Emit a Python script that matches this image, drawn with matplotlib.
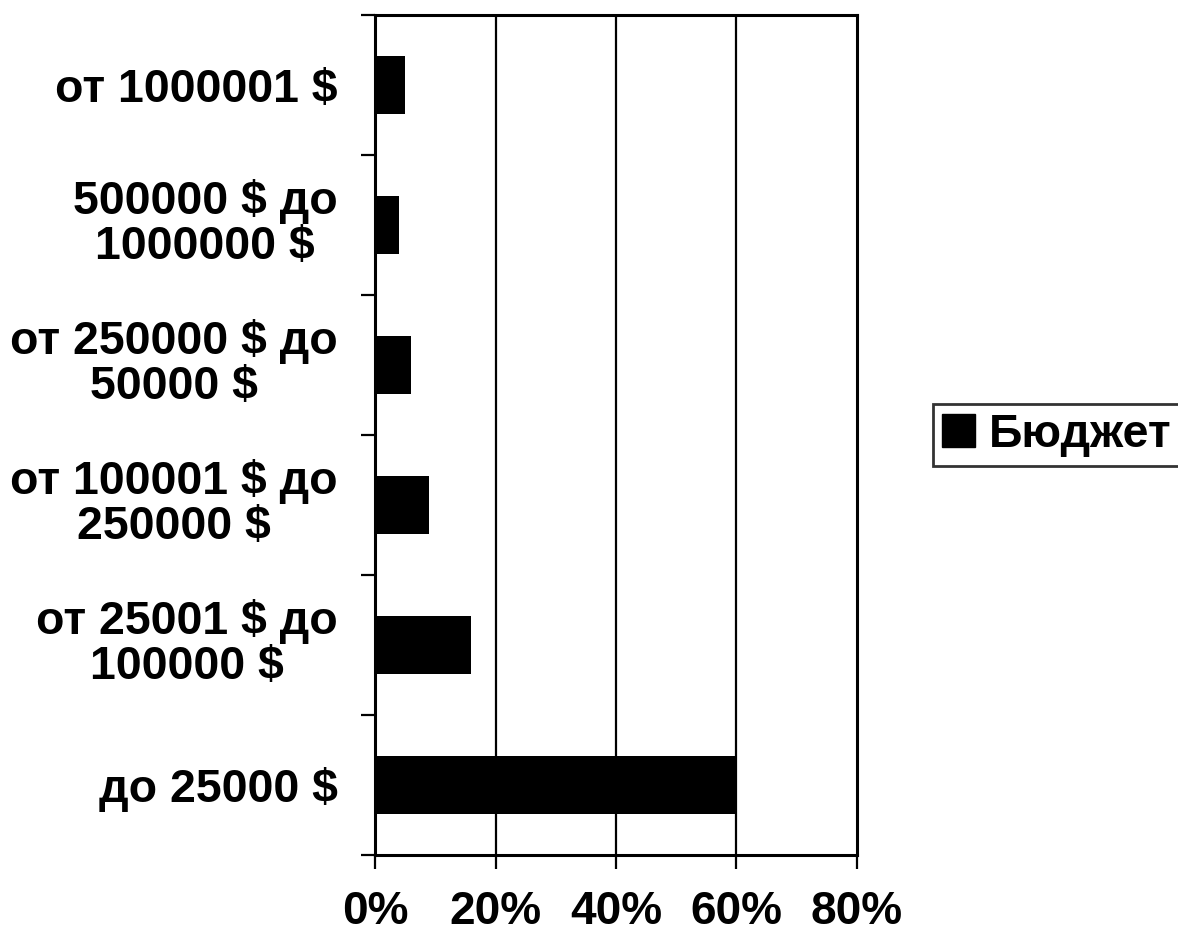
import matplotlib.pyplot as plt
from matplotlib.patches import Patch
from matplotlib.transforms import ScaledTranslation
import numpy as np

# данные (снизу вверх)
categories = [
    "до 25000 $",
    "от 25001 $ до\n100000 $",
    "от 100001 $ до\n250000 $",
    "от 250000 $ до\n50000 $",
    "500000 $ до\n1000000 $",
    "от 1000001 $",
]
budget = [60, 16, 9, 6, 4, 5]
x_ticks = [0, 20, 40, 60, 80]
x_labels = ["0%", "20%", "40%", "60%", "80%"]
series_name = "Бюджет"

plt.rcParams['font.family'] = ['Liberation Sans', 'DejaVu Sans']
plt.rcParams['font.weight'] = 'bold'
FS = 33.5

fig = plt.figure(figsize=(11.78, 9.36), dpi=100)
ax = fig.add_axes([375 / 1178, 1 - 855 / 936, (857 - 375) / 1178, (855 - 15) / 936])

y = np.arange(len(categories))
ax.barh(y, budget, height=0.41, color='black', zorder=3)

ax.set_xlim(0, 80)
ax.set_ylim(-0.5, len(categories) - 0.5)

# вертикальная сетка
for xv in x_ticks[1:-1]:
    ax.axvline(xv, color='black', linewidth=1.6, zorder=1)

for s in ax.spines.values():
    s.set_linewidth(2.2)
    s.set_color('black')

ax.set_xticks(x_ticks)
ax.set_xticklabels(x_labels, fontsize=33, fontweight='bold')
ax.tick_params(axis='x', direction='out', length=10, width=1.6, pad=15)

# деления на границах категорий, подписи в центрах
ax.set_yticks(np.arange(-0.5, len(categories), 1.0))
ax.set_yticklabels([])
ax.tick_params(axis='y', which='major', direction='out', length=10, width=1.6)
ax.set_yticks(y, minor=True)
ax.set_yticklabels(categories, minor=True, fontsize=FS, fontweight='bold',
                   ha='right', multialignment='center', linespacing=1.03)
ax.tick_params(axis='y', which='minor', length=0, pad=27)

# двухстрочные подписи в оригинале чуть выше центра категории
for lbl in ax.get_yticklabels(minor=True):
    if "\n" in lbl.get_text():
        lbl.set_transform(lbl.get_transform() + ScaledTranslation(0, 7 / 100, fig.dpi_scale_trans))

leg = fig.legend(handles=[Patch(facecolor='black', edgecolor='black', label=series_name)],
                 loc='center left', bbox_to_anchor=(933 / 1178, 1 - 435 / 936),
                 prop={'size': FS, 'weight': 'bold'}, frameon=True, fancybox=False,
                 handlelength=0.7, handleheight=0.7, handletextpad=0.3,
                 borderpad=0.2, borderaxespad=0)
leg.get_frame().set_edgecolor('black')
leg.get_frame().set_linewidth(2)

fig.savefig("out.png", dpi=100)
